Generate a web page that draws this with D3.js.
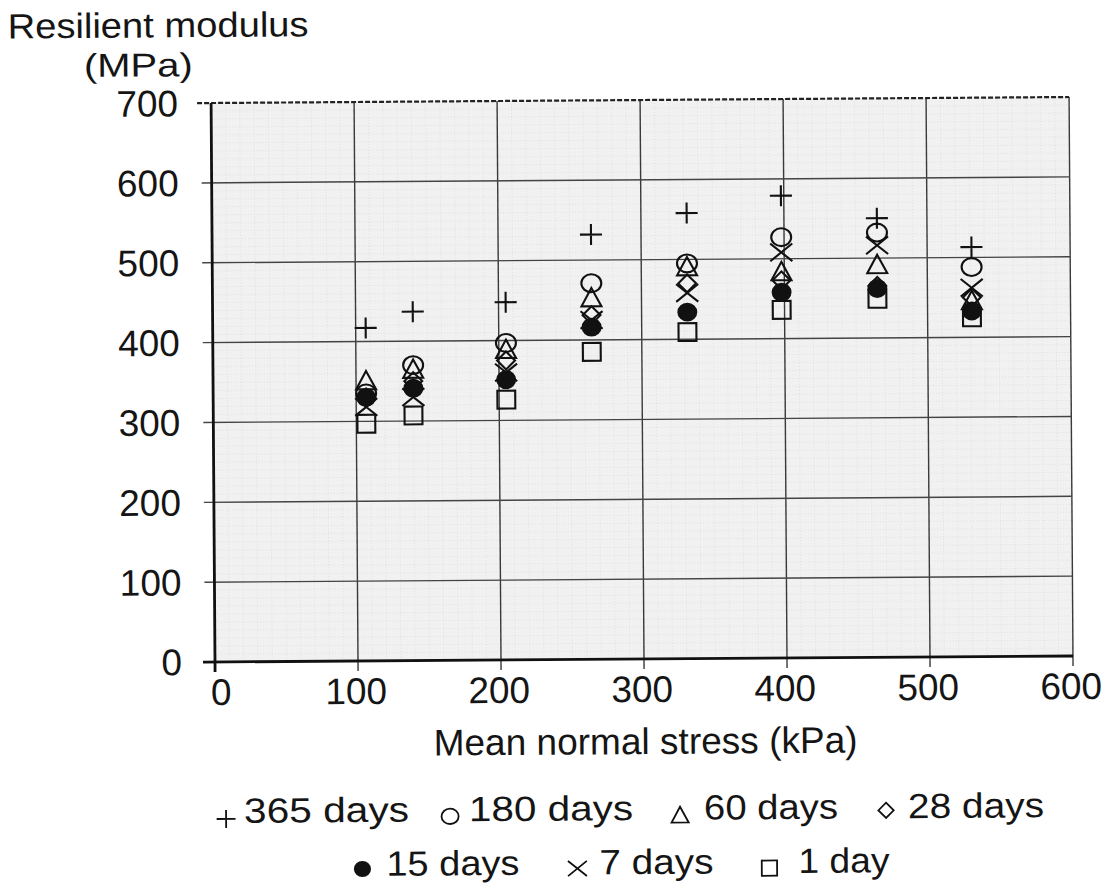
<!DOCTYPE html>
<html><head><meta charset="utf-8">
<script src="https://cdn.jsdelivr.net/npm/d3@7"></script>
<style>body{margin:0;background:#fff}svg{display:block}text{font-family:"Liberation Sans",Arial,sans-serif;fill:#151515}</style>
</head><body>
<svg id="c" width="1117" height="885"></svg>
<script>
const stress = [107, 140, 205, 265, 332, 398, 465, 531];
const d365 = [417, 437, 448, 532, 558, 579, 550, 513];
const d180 = [335, 370, 397, 471, 495, 527, 532, 488];
const d60  = [350, 364, 388, 452, 490, 483, 491, 445];
const d28  = [330, 350, 375, 431, 470, 473, 465, 450];
const d15  = [330, 341, 351, 416, 434, 458, 462, 433];
const d7   = [318, 330, 360, 425, 458, 508, 516, 462];
const d1   = [297, 307, 326, 385, 409, 436, 449, 425];
const xTicks = [0, 100, 200, 300, 400, 500, 600];
const yTicks = [0, 100, 200, 300, 400, 500, 600, 700];
const seriesNames = ["365 days","180 days","60 days","28 days","15 days","7 days","1 day"];
const seriesMarks = ["plus","circle","triangle","diamond","dot","cross","square"];
const seriesVals = [d365, d180, d60, d28, d15, d7, d1];

const svg = d3.select("#c");
const root = svg.append("g").attr("transform","rotate(-0.4,215,662)");
const x = d3.scaleLinear().domain([0,600]).range([215,1073]);
const y = d3.scaleLinear().domain([0,700]).range([662,103]);

// background paper
root.append("rect").attr("x",x(0)).attr("y",y(700)).attr("width",x(600)-x(0)).attr("height",y(0)-y(700)).attr("fill","#f1f1f1");
const minorX = d3.range(0,601,10), minorY = d3.range(0,701,10);
root.append("g").selectAll("line").data(minorX).join("line")
  .attr("x1",d=>x(d)).attr("x2",d=>x(d)).attr("y1",y(0)).attr("y2",y(700))
  .attr("stroke","#d6d6d6").attr("stroke-width",0.6).attr("stroke-dasharray","1,2");
root.append("g").selectAll("line").data(minorY).join("line")
  .attr("y1",d=>y(d)).attr("y2",d=>y(d)).attr("x1",x(0)).attr("x2",x(600))
  .attr("stroke","#d6d6d6").attr("stroke-width",0.6).attr("stroke-dasharray","1,2");

// major grid
root.append("g").selectAll("line").data(xTicks.slice(1)).join("line")
  .attr("x1",d=>x(d)).attr("x2",d=>x(d)).attr("y1",y(0)+10).attr("y2",y(700))
  .attr("stroke","#3a3a3a").attr("stroke-width",1.4);
root.append("g").selectAll("line").data(yTicks.slice(1,-1)).join("line")
  .attr("y1",d=>y(d)).attr("y2",d=>y(d)).attr("x1",x(0)-10).attr("x2",x(600))
  .attr("stroke","#444").attr("stroke-width",1.4);
// top border dashed
root.append("line").attr("x1",x(0)-14).attr("x2",x(600)).attr("y1",y(700)).attr("y2",y(700))
  .attr("stroke","#222").attr("stroke-width",2.2).attr("stroke-dasharray","5,2");
// axes
root.append("line").attr("x1",x(0)).attr("x2",x(0)).attr("y1",y(700)).attr("y2",y(0)+10)
  .attr("stroke","#111").attr("stroke-width",2.8);
root.append("line").attr("x1",x(0)-12).attr("x2",x(600)).attr("y1",y(0)).attr("y2",y(0))
  .attr("stroke","#111").attr("stroke-width",2.8);

// tick labels
root.append("g").selectAll("text").data(yTicks).join("text")
  .attr("x",182).attr("y",d=>y(d)+13).attr("text-anchor","end")
  .attr("font-size",37).text(d=>d);
root.append("g").selectAll("text").data(xTicks).join("text")
  .attr("x",d=>x(d)+(d===0?6:-2)).attr("y",705).attr("text-anchor","middle")
  .attr("font-size",37).text(d=>d);

// titles
root.append("text").attr("x",12).attr("y",37).attr("font-size",35)
  .attr("textLength",301).attr("lengthAdjust","spacingAndGlyphs").text("Resilient modulus");
root.append("text").attr("x",88).attr("y",76).attr("font-size",33)
  .attr("textLength",109).attr("lengthAdjust","spacingAndGlyphs").text("(MPa)");
root.append("text").attr("x",433).attr("y",757).attr("font-size",37)
  .attr("textLength",424).attr("lengthAdjust","spacingAndGlyphs").text("Mean normal stress (kPa)");

function marker(g, type, cx, cy, s, sw){
  if(type==="plus"){
    g.append("path").attr("d",`M${cx-s*1.05},${cy}H${cx+s*1.05}M${cx},${cy-s}V${cy+s}`).attr("stroke","#111").attr("stroke-width",sw).attr("fill","none");
  } else if(type==="cross"){
    const k=s*1.05;
    g.append("path").attr("d",`M${cx-k},${cy-k*0.8}L${cx+k},${cy+k*0.8}M${cx-k},${cy+k*0.8}L${cx+k},${cy-k*0.8}`).attr("stroke","#111").attr("stroke-width",sw).attr("fill","none");
  } else if(type==="circle"){
    g.append("ellipse").attr("cx",cx).attr("cy",cy).attr("rx",s*0.95).attr("ry",s*0.85).attr("stroke","#111").attr("stroke-width",sw).attr("fill","none");
  } else if(type==="dot"){
    g.append("ellipse").attr("cx",cx).attr("cy",cy).attr("rx",s*0.95).attr("ry",s*0.9).attr("fill","#111");
  } else if(type==="triangle"){
    g.append("path").attr("d",`M${cx},${cy-s}L${cx+s*0.95},${cy+s*0.75}L${cx-s*0.95},${cy+s*0.75}Z`).attr("stroke","#111").attr("stroke-width",sw).attr("fill","none");
  } else if(type==="diamond"){
    const k=s*0.85;
    g.append("path").attr("d",`M${cx},${cy-k}L${cx+k},${cy}L${cx},${cy+k}L${cx-k},${cy}Z`).attr("stroke","#111").attr("stroke-width",sw).attr("fill","none");
  } else if(type==="square"){
    const k=s*0.85;
    g.append("rect").attr("x",cx-k).attr("y",cy-k).attr("width",2*k).attr("height",2*k).attr("stroke","#111").attr("stroke-width",sw).attr("fill","none");
  }
}

// data markers, draw order: 1 day, 7, 28, 60, 180, 365, 15
const order = [6,5,3,2,1,0,4];
const pg = root.append("g");
order.forEach(si=>{
  seriesVals[si].forEach((v,i)=>marker(pg, seriesMarks[si], x(stress[i]), y(v), 10.5, 2.1));
});

// legend
const legendMk = [[225,819],[449,818],[679,819],[885,815],[361,870],[576,871],[768,872]];
const legendTx = [[243,165],[468,164],[703,134],[907,136],[385,133],[598,114],[797,91]];
const legendBase = [823,823,823,823,877,877,877];
const lg = root.append("g");
seriesNames.forEach((n,i)=>{
  const [mx,my] = legendMk[i];
  marker(lg, seriesMarks[i], mx, my, 9, 1.8);
  lg.append("text").attr("x",legendTx[i][0]).attr("y",legendBase[i]).attr("font-size",35)
    .attr("textLength",legendTx[i][1]).attr("lengthAdjust","spacingAndGlyphs").text(n);
});
</script>
</body></html>
